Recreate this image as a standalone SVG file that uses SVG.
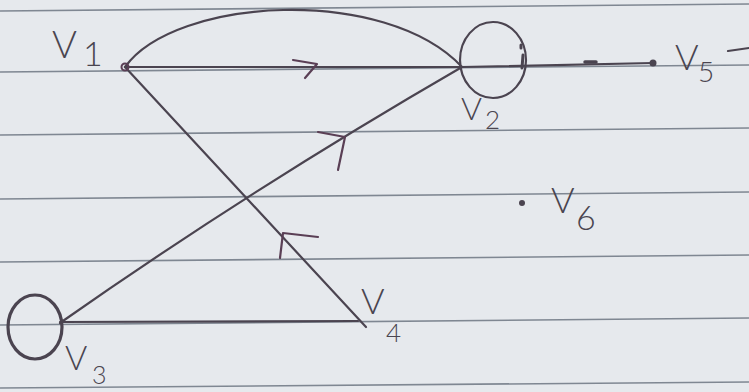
<svg xmlns="http://www.w3.org/2000/svg" width="749" height="392" viewBox="0 0 749 392">
<style>
.paper{fill:#e6e9ed}
.rule{stroke:#7f8792;stroke-width:1.6;fill:none}
.edge{stroke:#4b4450;stroke-width:2.2;fill:none;stroke-linecap:round}
.arrow{stroke:#5a3f55;stroke-width:2.2;fill:none;stroke-linecap:round;stroke-linejoin:round}
.loop{stroke:#4b4450;stroke-width:2.2;fill:none}
.lbl{font-family:Lato,"Liberation Sans",sans-serif;font-weight:300;fill:#4a4550}
</style>
<rect class="paper" x="0" y="0" width="749" height="392"/>
<g id="rules">
<path class="rule" d="M0,11 L749,4"/>
<path class="rule" d="M0,72 L749,65"/>
<path class="rule" d="M0,135 L749,128"/>
<path class="rule" d="M0,199 L749,192"/>
<path class="rule" d="M0,262 L749,255"/>
<path class="rule" d="M0,325 L749,318"/>
<path class="rule" d="M0,388 L749,382"/>
</g>
<g id="connectors">
<path class="edge" d="M125,67 C175,-3 385,-15 462,67"/>
<path class="edge" d="M125,67 L462,67"/>
<path class="arrow" d="M293,60 L317,64 L305,78"/>
<path class="edge" d="M462,67 L653,63"/>
<path class="edge" d="M585,62 L596,62" style="stroke-width:3.5"/>
<path class="edge" d="M125,67 L366,327"/>
<path class="arrow" d="M318,237 L283,233 L280,258"/>
<path class="edge" d="M60,323 Q251,189 462,67"/>
<path class="arrow" d="M318,132 L345,137 L338,170"/>
<path class="edge" d="M60,322 L358,321"/>
</g>
<g id="v1">
<circle cx="125" cy="67" r="3.5" fill="none" stroke="#5a3f55" stroke-width="2"/>
<text class="lbl" x="52" y="58" font-size="38">V</text>
<text class="lbl" x="83" y="66" font-size="34">1</text>
</g>
<g id="v2">
<ellipse class="loop" cx="493" cy="60" rx="33" ry="38"/>
<path class="edge" d="M521,45 L521,48 M523,55 L522,68" style="stroke-width:3"/>
<text class="lbl" x="461" y="120" font-size="32">V</text>
<text class="lbl" x="485" y="129" font-size="26">2</text>
</g>
<g id="v3">
<ellipse class="loop" cx="35" cy="327" rx="27" ry="32" style="stroke-width:3.2"/>
<text class="lbl" x="65" y="370" font-size="34">V</text>
<text class="lbl" x="92" y="384" font-size="25">3</text>
</g>
<g id="v4">
<text class="lbl" x="361" y="314" font-size="36">V</text>
<text class="lbl" x="386" y="342" font-size="26">4</text>
</g>
<g id="v5">
<circle cx="653" cy="63" r="3.5" fill="#4b4450"/>
<text class="lbl" x="675" y="70" font-size="36">V</text>
<text class="lbl" x="698" y="82" font-size="28">5</text>
<path class="edge" d="M728,51 L749,48"/>
</g>
<g id="v6">
<circle cx="522" cy="203" r="3" fill="#4b4450"/>
<text class="lbl" x="551" y="213" font-size="36">V</text>
<text class="lbl" x="576" y="230" font-size="34">6</text>
</g>
</svg>
